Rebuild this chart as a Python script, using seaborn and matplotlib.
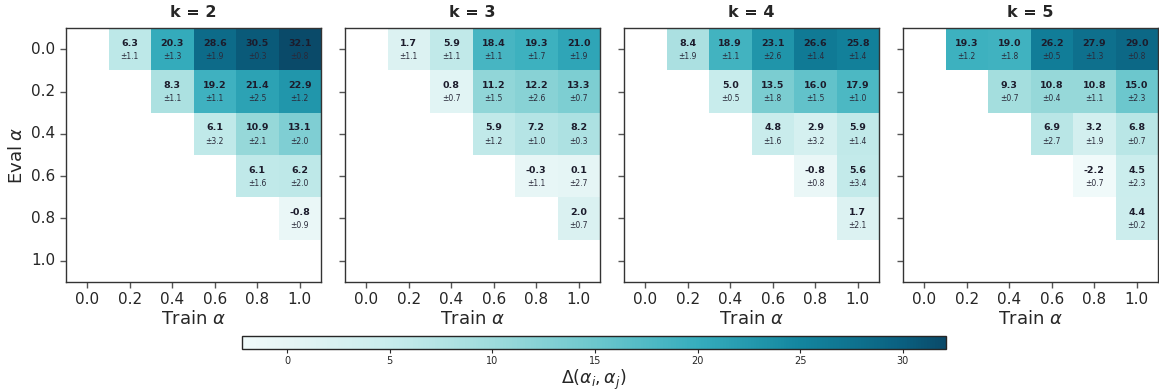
import numpy as np
import pandas as pd
import matplotlib
matplotlib.use("Agg")
import matplotlib.pyplot as plt
import seaborn as sns
from matplotlib.colors import LinearSegmentedColormap, Normalize
from matplotlib.cm import ScalarMappable

alphas = [0.0, 0.2, 0.4, 0.6, 0.8, 1.0]
alpha_labels = ["0.0", "0.2", "0.4", "0.6", "0.8", "1.0"]
ks = [2, 3, 4, 5]

# upper-triangular rows: row i (eval alpha i) has values for train alpha j > i
k2_mean = [[6.3, 20.3, 28.6, 30.5, 32.1], [8.3, 19.2, 21.4, 22.9], [6.1, 10.9, 13.1], [6.1, 6.2], [-0.8]]
k2_std = [[1.1, 1.3, 1.9, 0.3, 0.8], [1.1, 1.1, 2.5, 1.2], [3.2, 2.1, 2.0], [1.6, 2.0], [0.9]]
k3_mean = [[1.7, 5.9, 18.4, 19.3, 21.0], [0.8, 11.2, 12.2, 13.3], [5.9, 7.2, 8.2], [-0.3, 0.1], [2.0]]
k3_std = [[1.1, 1.1, 1.1, 1.7, 1.9], [0.7, 1.5, 2.6, 0.7], [1.2, 1.0, 0.3], [1.1, 2.7], [0.7]]
k4_mean = [[8.4, 18.9, 23.1, 26.6, 25.8], [5.0, 13.5, 16.0, 17.9], [4.8, 2.9, 5.9], [-0.8, 5.6], [1.7]]
k4_std = [[1.9, 1.1, 2.6, 1.4, 1.4], [0.5, 1.8, 1.5, 1.0], [1.6, 3.2, 1.4], [0.8, 3.4], [2.1]]
k5_mean = [[19.3, 19.0, 26.2, 27.9, 29.0], [9.3, 10.8, 10.8, 15.0], [6.9, 3.2, 6.8], [-2.2, 4.5], [4.4]]
k5_std = [[1.2, 1.8, 0.5, 1.3, 0.8], [0.7, 0.4, 1.1, 2.3], [2.7, 1.9, 0.7], [0.7, 2.3], [0.2]]

means = [k2_mean, k3_mean, k4_mean, k5_mean]
stds = [k2_std, k3_std, k4_std, k5_std]

cbar_ticks = [0, 5, 10, 15, 20, 25, 30]


def to_matrix(rows):
    n = len(alphas)
    m = np.full((n, n), np.nan)
    for i, r in enumerate(rows):
        for jj, v in enumerate(r):
            m[i, i + 1 + jj] = v
    return m


mean_mats = [to_matrix(m) for m in means]
std_mats = [to_matrix(s) for s in stds]
vmin = np.nanmin([np.nanmin(m) for m in mean_mats])
vmax = np.nanmax([np.nanmax(m) for m in mean_mats])

anchor_vals = [vmin, 0, 5, 10, 15, 20, 25, 30, vmax]
anchor_cols = ["#f0fafa", "#e6f5f5", "#c8ecec", "#9edbdc", "#6cc7cd", "#36adbd",
               "#13869f", "#0a6080", "#0a4a69"]
cmap = LinearSegmentedColormap.from_list(
    "teal", [((v - vmin) / (vmax - vmin), c) for v, c in zip(anchor_vals, anchor_cols)])

sns.set_style("white")
plt.rcParams["font.family"] = ["DejaVu Sans"]
plt.rcParams["mathtext.fontset"] = "dejavusans"

fig = plt.figure(figsize=(11.59, 3.92), dpi=100)
W, H = 1159, 392
lefts = [66, 345, 624, 903]
axw = 255
top, bottom = 28, 282

for p, k in enumerate(ks):
    ax = fig.add_axes([lefts[p] / W, 1 - bottom / H, axw / W, (bottom - top) / H])
    df = pd.DataFrame(mean_mats[p], index=alpha_labels, columns=alpha_labels)
    sns.heatmap(df, ax=ax, cmap=cmap, vmin=vmin, vmax=vmax, cbar=False,
                linewidths=0, square=False)
    for i in range(len(alphas)):
        for j in range(len(alphas)):
            v = mean_mats[p][i, j]
            if np.isnan(v):
                continue
            s = std_mats[p][i, j]
            ax.text(j + 0.5, i + 0.36, f"{v:.1f}", ha="center", va="center",
                    fontsize=6.8, fontweight="bold", color="#1c1c2c")
            ax.text(j + 0.5, i + 0.67, f"\u00b1{s:.1f}", ha="center", va="center",
                    fontsize=5.5, color="#2a2a3a")
    for sp in ax.spines.values():
        sp.set_visible(True)
        sp.set_color("#333333")
        sp.set_linewidth(1.0)
    ax.set_title(f"k = {k}", fontsize=11.5, fontweight="bold", pad=8)
    ax.set_xticks(np.arange(len(alphas)) + 0.5)
    ax.set_xticklabels(alpha_labels, rotation=0, fontsize=11)
    ax.set_yticks(np.arange(len(alphas)) + 0.5)
    ax.tick_params(axis="both", which="both", length=4, width=1, color="#555555",
                   bottom=True, left=True, direction="out")
    if p == 0:
        ax.set_yticklabels(alpha_labels, rotation=0, fontsize=11)
        ax.set_ylabel(r"Eval $\alpha$", fontsize=13)
    else:
        ax.set_yticklabels([])
        ax.set_ylabel("")
    ax.set_xlabel(r"Train $\alpha$", fontsize=13, labelpad=2)

cax = fig.add_axes([242 / W, 1 - 349 / H, 704 / W, 13 / H])
sm = ScalarMappable(norm=Normalize(vmin=vmin, vmax=vmax), cmap=cmap)
cb = fig.colorbar(sm, cax=cax, orientation="horizontal")
cb.set_ticks(cbar_ticks)
cb.ax.tick_params(labelsize=7, length=3, pad=2)
cb.outline.set_linewidth(1.0)
cb.set_label(r"$\Delta(\alpha_i, \alpha_j)$", fontsize=12.5, labelpad=1)

fig.savefig("out.png", dpi=100)
